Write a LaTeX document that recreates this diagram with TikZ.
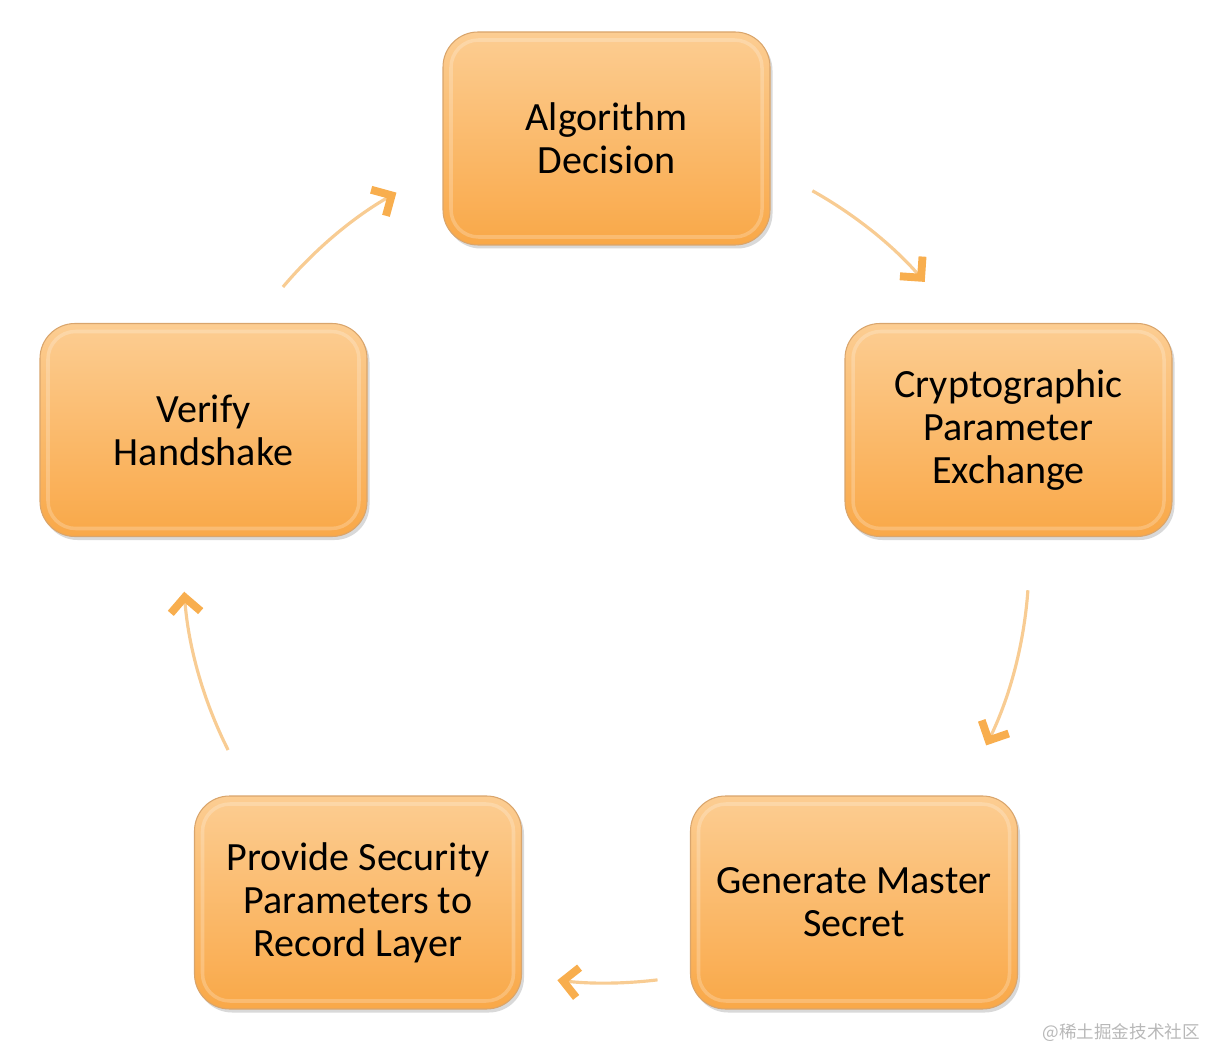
\documentclass[tikz,border=0pt]{standalone}
\usepackage{fontspec}
\setmainfont{Carlito}
\newfontfamily\cjkfont{Noto Sans CJK SC}
\usetikzlibrary{arrows.meta,shadows}
\definecolor{boxtop}{HTML}{FCCD92}
\definecolor{boxbot}{HTML}{F9A848}
\definecolor{boxedge}{HTML}{D9A56C}
\definecolor{arcline}{HTML}{F8CC93}
\definecolor{arctip}{HTML}{F8AE4E}
\definecolor{wmgray}{HTML}{B8B8B8}
\tikzset{
  stepbox/.style={rectangle,rounded corners=0.7cm,minimum width=6.54cm,
    minimum height=4.26cm,top color=boxtop,bottom color=boxbot,
    draw=boxedge,line width=0.6pt,align=center,
    font=\fontsize{22.8}{24.5}\selectfont,
    drop shadow={shadow xshift=0.05cm,shadow yshift=-0.07cm,
      opacity=0.25,fill=black!60},
    path picture={
      \draw[white,opacity=0.22,line width=2pt,rounded corners=0.55cm]
        ([shift={(0.16,-0.16)}]path picture bounding box.north west)
        rectangle ([shift={(-0.16,0.16)}]path picture bounding box.south east);
    }},
  cycarrow/.style={arcline,line width=1.8pt,
    -{Straight Barb[length=3mm,width=6mm,line width=4.5pt,color=arctip]}},
  watermark/.style={font=\cjkfont\fontsize{10}{12}\selectfont,text=wmgray}
}

\begin{document}
\begin{tikzpicture}

\useasboundingbox (0,0) rectangle (24.24,21);

% Handshake steps, placed round a ring
\node[stepbox] (alg)    at (12.13,18.23) {Algorithm\\Decision};
\node[stepbox] (crypt)  at (20.17,12.40) {Cryptographic\\Parameter\\Exchange};
\node[stepbox] (gen)    at (17.08, 2.95) {Generate Master\\Secret};
\node[stepbox] (prov)   at ( 7.16, 2.95) {Provide Security\\Parameters to\\Record Layer};
\node[stepbox] (verify) at ( 4.07,12.40) {Verify\\Handshake};

% Centre of the ring that the arrows follow
\coordinate (ring) at (12.12,9.8);
\path (ring) ++(139.8:8.46) coordinate (a1);
\path (ring) ++(60.8:8.46)  coordinate (a2);
\path (ring) ++(-4.1:8.46)  coordinate (a3);
\path (ring) ++(-83:8.46)   coordinate (a4);
\path (ring) ++(206.7:8.46) coordinate (a5);

% Cycle arrows
\draw[cycarrow] (a1) arc[start angle=139.8,end angle=119.7,radius=8.46];
\draw[cycarrow] (a2) arc[start angle=60.8,end angle=41.1,radius=8.46];
\draw[cycarrow] (a3) arc[start angle=-4.1,end angle=-26,radius=8.46];
\draw[cycarrow] (a4) arc[start angle=-83,end angle=-96.6,radius=8.46];
\draw[cycarrow] (a5) arc[start angle=206.7,end angle=184.3,radius=8.46];

% Site mark
\node[watermark,anchor=east] (mark) at (24.12,0.34) {@稀土掘金技术社区};

\end{tikzpicture}
\end{document}
